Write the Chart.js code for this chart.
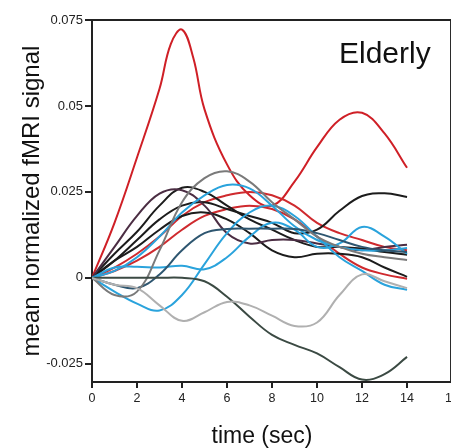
<!DOCTYPE html>
<html>
<head>
<meta charset="utf-8">
<script src="https://cdn.jsdelivr.net/npm/chart.js@4/dist/chart.umd.min.js"></script>
<style>
  html, body { margin: 0; padding: 0; background: #fff; overflow: hidden; }
  #wrap { width: 462px; height: 448px; position: relative; }
</style>
</head>
<body>
<div id="wrap"><canvas id="chart"></canvas></div>
<script>
// time axis (sec) and tick values
const times = [0, 1, 2, 3, 4, 5, 6, 7, 8, 9, 10, 11, 12, 13, 14];
// the tall red curve is read a little more finely around its peak
const redBigTimes = [0, 1, 2, 3, 3.5, 4, 4.5, 5, 6, 7, 8, 9, 10, 11, 12, 13, 14];
const yTickValues = [-0.025, 0, 0.025, 0.05, 0.075];

// one curve per subject
const redBig    = [0, 0.016, 0.035, 0.055, 0.068, 0.0722, 0.064, 0.049, 0.033, 0.024, 0.021, 0.028, 0.038, 0.046, 0.048, 0.042, 0.032];
const redUpper  = [0, 0.003, 0.007, 0.012, 0.018, 0.022, 0.024, 0.025, 0.024, 0.021, 0.016, 0.013, 0.011, 0.009, 0.008];
const redLower  = [0, 0.002, 0.005, 0.009, 0.014, 0.018, 0.020, 0.021, 0.020, 0.017, 0.012, 0.007, 0.003, 0.001, -0.0003];
const blackHigh = [0, 0.005, 0.011, 0.017, 0.021, 0.022, 0.020, 0.018, 0.016, 0.013, 0.014, 0.0195, 0.0238, 0.0246, 0.0235];
const black1    = [0, 0.007, 0.0134, 0.021, 0.0262, 0.025, 0.021, 0.017, 0.014, 0.011, 0.009, 0.009, 0.0085, 0.0075, 0.0067];
const black3    = [0, 0.005, 0.009, 0.014, 0.018, 0.019, 0.017, 0.013, 0.008, 0.006, 0.007, 0.007, 0.006, 0.003, 0.0003];
const purple    = [0, 0.009, 0.018, 0.0245, 0.0255, 0.021, 0.013, 0.010, 0.011, 0.011, 0.010, 0.009, 0.008, 0.009, 0.0096];
const gray      = [0, -0.005, -0.004, 0.008, 0.022, 0.029, 0.031, 0.028, 0.022, 0.017, 0.012, 0.009, 0.007, 0.006, 0.0052];
const lightGray = [0, -0.002, -0.003, -0.008, -0.0125, -0.010, -0.007, -0.008, -0.011, -0.014, -0.013, -0.005, 0.001, -0.001, -0.003];
const darkGreen = [0, 0, 0, 0, 0, -0.001, -0.0055, -0.0113, -0.0166, -0.0195, -0.022, -0.026, -0.0296, -0.028, -0.023];
const cyanDip   = [0, -0.004, -0.0075, -0.0095, -0.005, 0.004, 0.013, 0.019, 0.021, 0.018, 0.012, 0.006, 0.002, -0.002, -0.0035];
const cyanPeak  = [0, 0.002, 0.006, 0.012, 0.019, 0.024, 0.027, 0.026, 0.021, 0.015, 0.011, 0.009, 0.008, 0.008, 0.0087];
const cyanFlat  = [0, 0.003, 0.0032, 0.003, 0.0035, 0.0025, 0.006, 0.012, 0.016, 0.014, 0.009, 0.010, 0.0148, 0.012, 0.007];
const slate     = [0, -0.002, -0.003, 0.001, 0.008, 0.013, 0.0142, 0.0143, 0.0143, 0.0142, 0.013, 0.011, 0.009, 0.008, 0.0075];

const series = [
  { vals: lightGray, color: '#b0b0b0' },
  { vals: darkGreen, color: '#3b4a43' },
  { vals: gray,      color: '#7a7a7a' },
  { vals: slate,     color: '#2e5670' },
  { vals: cyanDip,   color: '#2aa3dc' },
  { vals: cyanPeak,  color: '#2aa3dc' },
  { vals: cyanFlat,  color: '#2aa3dc' },
  { vals: purple,    color: '#4b2d43' },
  { vals: black1,    color: '#1c1c1c' },
  { vals: black3,    color: '#1c1c1c' },
  { vals: blackHigh, color: '#1c1c1c' },
  { vals: redUpper,  color: '#cf2a2e' },
  { vals: redLower,  color: '#cf2a2e' },
  { vals: redBig,    color: '#cf1f26', t: redBigTimes }
];

const datasets = series.map(s => {
  const tt = s.t || times;
  return {
    data: tt.map((t, i) => ({ x: t, y: s.vals[i] })),
    borderColor: s.color, borderWidth: 2, pointRadius: 0, tension: 0.4, fill: false
  };
});

const FONT = '"Liberation Sans", Arial, sans-serif';

const frame = {
  id: 'frame',
  afterDraw(c){
    const { ctx, chartArea: a } = c;
    ctx.save();
    ctx.strokeStyle = '#222'; ctx.lineWidth = 2;
    ctx.beginPath();
    ctx.moveTo(a.left, a.top); ctx.lineTo(a.right - 1, a.top); ctx.lineTo(a.right - 1, a.bottom);
    ctx.stroke();
    ctx.fillStyle = '#111';
    ctx.font = '30px ' + FONT;
    ctx.textAlign = 'left'; ctx.textBaseline = 'alphabetic';
    ctx.fillText('Elderly', 339, 63);
    // x axis title, placed as in the figure (slightly left of the plot centre)
    ctx.font = '23px ' + FONT;
    ctx.textAlign = 'center'; ctx.textBaseline = 'middle';
    ctx.fillText('time (sec)', 262, 437);
    ctx.restore();
  }
};

new Chart(document.getElementById('chart'), {
  type: 'line',
  data: { datasets },
  options: {
    responsive: true, maintainAspectRatio: false, animation: false,
    layout: { padding: { top: 20, right: 0, left: 0, bottom: 0 } },
    plugins: { legend: { display: false }, tooltip: { enabled: false } },
    scales: {
      x: {
        type: 'linear', min: 0, max: 16,
        afterFit(s){ s.height = 66; },
        grid: { drawOnChartArea: false, color: '#222', tickLength: 6, lineWidth: 2 },
        border: { color: '#222', width: 2 },
        ticks: { stepSize: 2, color: '#222', padding: 3, font: { family: FONT, size: 12.5 } }
      },
      y: {
        min: -0.0303, max: 0.075,
        afterFit(s){ s.width = 92; },
        afterBuildTicks(s){ s.ticks = yTickValues.map(v => ({ value: v })); },
        grid: { drawOnChartArea: false, color: '#222', tickLength: 7, lineWidth: 2 },
        border: { color: '#222', width: 2 },
        ticks: { color: '#222', padding: 2, font: { family: FONT, size: 13 },
                 callback: v => String(Number(v.toFixed(3))) },
        title: { display: true, text: 'mean normalized fMRI signal', color: '#111', padding: { top: 20, bottom: 0 },
                 font: { family: FONT, size: 24, lineHeight: 1 } }
      }
    }
  },
  plugins: [frame]
});
</script>
</body>
</html>
